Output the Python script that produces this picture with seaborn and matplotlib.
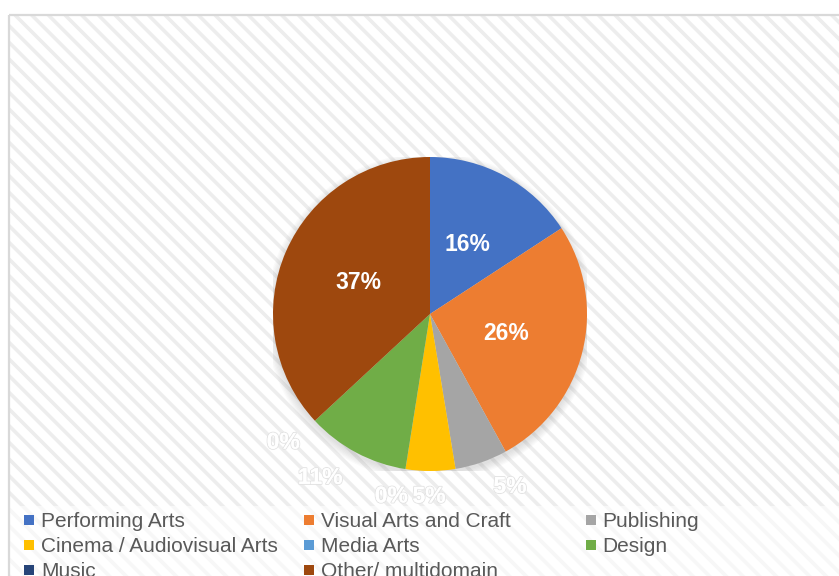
import matplotlib
matplotlib.use("Agg")
import matplotlib.pyplot as plt
import matplotlib.patheffects as pe
from matplotlib.patches import Rectangle, Circle
import numpy as np
import seaborn as sns

# data
categories = ["Performing Arts", "Visual Arts and Craft", "Publishing",
              "Cinema / Audiovisual Arts", "Media Arts", "Design",
              "Music", "Other/ multidomain"]
shares = [15.8, 26.2, 5.4, 5.1, 0.0, 10.6, 0.0, 36.9]
colors = ["#4472C4", "#ED7D31", "#A5A5A5", "#FFC000",
          "#5B9BD5", "#70AD47", "#264478", "#9E480E"]

# label placement per slice: (radius factor, angle nudge in deg)
label_place = [(0.5, 0), (0.5, 0), (1.21, 5.8), (1.16, -0.5),
               (1.185, -3.0), (1.254, -5.8), (1.241, -1.7), (0.5, 0)]

sns.set_theme(style="white")
plt.rcParams["font.family"] = ["Liberation Sans", "DejaVu Sans"]
plt.rcParams["hatch.linewidth"] = 2.6

W, H = 839, 576
fig = plt.figure(figsize=(W / 100, H / 100), dpi=100)
fig.patch.set_facecolor("white")

# background: chart frame, hatched plot area, legend strip
bg = fig.add_axes([0, 0, 1, 1])
bg.set_xlim(0, W)
bg.set_ylim(H, 0)
bg.axis("off")
bg.add_patch(Rectangle((10, 506), W, 80, facecolor="white",
                       edgecolor="#f7f7f7", linewidth=0, hatch="\\\\"))
bg.add_patch(Rectangle((10, 16), W, 490, facecolor="white",
                       edgecolor="#ededed", linewidth=0, hatch="\\\\"))
bg.add_patch(Rectangle((9, 15), W + 10, H + 10, facecolor="none",
                       edgecolor="#d9d9d9", linewidth=1.6))

# pie
cx, cy, R = 430, 314, 157
ax = fig.add_axes([(cx - R) / W, (H - cy - R) / H, 2 * R / W, 2 * R / H])
palette = sns.color_palette(colors)

# soft shadow under the pie
for k in range(7):
    ax.add_patch(Circle((0, -0.02), 1.0 + k * 0.008, color="#7f7f7f",
                        alpha=0.035, linewidth=0, zorder=0))

wedges, _ = ax.pie(shares, colors=palette, startangle=90, counterclock=False,
                   radius=1.0, wedgeprops=dict(linewidth=0))
for w in wedges:
    w.set_zorder(2)
ax.set_xlim(-1, 1)
ax.set_ylim(-1, 1)

for w, v, (r, nudge) in zip(wedges, shares, label_place):
    mid = np.deg2rad((w.theta1 + w.theta2) / 2 + nudge)
    t = ax.text(r * np.cos(mid), r * np.sin(mid), f"{v:.0f}%",
                ha="center", va="center", color="white",
                fontsize=16.5, fontweight="bold", zorder=5, clip_on=False)
    if r > 1:
        t.set_path_effects([pe.withStroke(linewidth=1.4, foreground="#e3e3e3"),
                            pe.Normal()])

# legend (3 columns, row-major like the original)
col_marker_x = [24, 304, 586]
col_text_x = [41, 321, 602]
row_base_y = [527, 552, 577]
for i, (name, c) in enumerate(zip(categories, palette)):
    row, col = divmod(i, 3)
    bg.add_patch(Rectangle((col_marker_x[col], row_base_y[row] - 12), 10, 10,
                           facecolor=c, edgecolor="none"))
    bg.text(col_text_x[col], row_base_y[row], name, fontsize=15,
            color="#595959", ha="left", va="baseline")

fig.savefig("out.png", dpi=100)
